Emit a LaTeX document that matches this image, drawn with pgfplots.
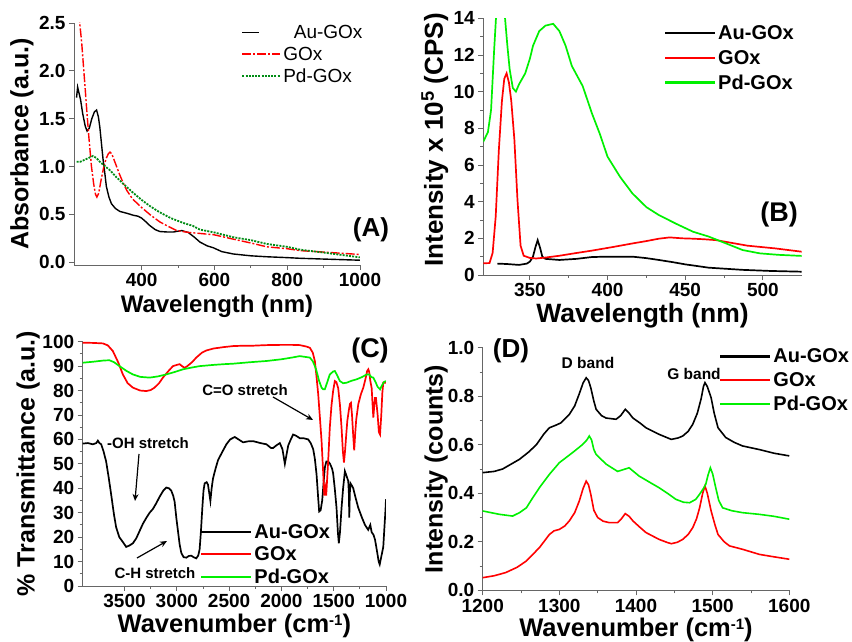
\documentclass[border=0pt]{standalone}
\usepackage{fontspec}
\setmainfont{Liberation Sans}
\usepackage{pgfplots}
\pgfplotsset{compat=1.18}
\usetikzlibrary{arrows.meta}

\definecolor{pdgreen}{RGB}{0,240,0}
\definecolor{dkgreen}{RGB}{0,140,20}

\newcommand{\cmi}{cm\raisebox{0.55ex}{\fontsize{15}{15}\selectfont -1}}

\pgfplotsset{
  leglong/.style={legend image code/.code={\draw[##1, line width=2.2pt] (0pt,0pt) -- (50pt,0pt);}},
  legmid/.style={legend image code/.code={\draw[##1, line width=1.8pt] (0pt,0pt) -- (38pt,0pt);}},
  legshort/.style={legend image code/.code={\draw[##1, line width=1.8pt] (0pt,0pt) -- (17pt,0pt);}},
  xlab/.style 2 args={every axis x label/.style={at={(axis description cs:0.5,#1)}, anchor=center,
    font=\bfseries\fontsize{#2}{#2}\selectfont}},
  ylab/.style n args={3}{every axis y label/.style={at={(axis description cs:#1,#3)}, anchor=center, rotate=90,
    font=\bfseries\fontsize{#2}{#2}\selectfont}},
  panel/.style={
    scale only axis,
    anchor=south west,
    axis x line*=bottom, axis y line*=left,
    axis line style={black!60, line width=0.9pt},
    tick align=outside,
    tick style={black!60, line width=0.9pt},
    major tick length=5pt, minor tick length=3pt,
    tick label style={font=\bfseries\fontsize{19}{19}\selectfont},
    /pgf/number format/assume math mode=true,
    /pgf/number format/set thousands separator={},
    legend cell align=left,
    legend style={draw=none, fill=none, anchor=north west, inner sep=0pt,
      row sep=4pt, font=\bfseries\fontsize{20}{20}\selectfont},
    leglong,
  },
}

\begin{document}
\begin{tikzpicture}
\path[use as bounding box] (0,0) rectangle (852pt,642pt);

% ---------- (A) absorbance
\begin{axis}[panel,
  at={(74pt,377pt)}, width=286pt, height=242pt,
  xmin=214, xmax=1000, ymin=-0.03, ymax=2.5,
  xtick={400,600,800,1000}, minor x tick num=1,
  ytick={0,0.5,1,1.5,2,2.5},
  yticklabel style={/pgf/number format/fixed, /pgf/number format/fixed zerofill, /pgf/number format/precision=1},
  xlabel={Wavelength (nm)}, ylabel={Absorbance (a.u.)},
  xlab={-0.17}{24}, ylab={-0.182}{25}{0.5},
  legend style={at={(0.585,1.0)}, font=\fontsize{19}{19}\selectfont, row sep=3pt},
  legmid,
]
\addplot[black, line width=1.4pt, legshort] coordinates {
(221,1.72)(224,1.83)(227,1.78)(232,1.70)(238,1.55)(245,1.42)(250,1.37)(256,1.40)(263,1.50)(270,1.57)(276,1.59)(281,1.52)(285,1.41)(290,1.22)(294,1.07)(299,0.92)(303,0.79)(310,0.68)(317,0.61)(328,0.56)(340,0.53)(360,0.51)(377,0.49)(390,0.48)(400,0.46)(412,0.42)(423,0.38)(437,0.34)(450,0.32)(470,0.315)(487,0.315)(510,0.33)(528,0.31)(545,0.26)(560,0.21)(580,0.17)(597,0.15)(620,0.11)(652,0.085)(700,0.066)(744,0.056)(800,0.047)(836,0.04)(900,0.032)(1000,0.02)
};
\addlegendentry{\ \ Au-GOx}
\addplot[red, line width=1.4pt, dash pattern=on 9pt off 2pt on 2pt off 2pt] coordinates {
(228,2.6)(230,2.49)(235,2.3)(240,2.05)(245,1.8)(249,1.59)(255,1.3)(262,1.0)(268,0.82)(273,0.71)(277,0.68)(282,0.72)(288,0.85)(295,0.98)(302,1.08)(308,1.13)(313,1.15)(318,1.13)(324,1.07)(331,1.0)(340,0.91)(349,0.83)(359,0.75)(375,0.66)(400,0.57)(425,0.49)(450,0.42)(475,0.37)(496,0.33)(530,0.31)(560,0.30)(600,0.285)(652,0.24)(700,0.2)(744,0.16)(800,0.14)(836,0.12)(900,0.105)(1000,0.08)
};
\addlegendentry{GOx}
\addplot[dkgreen, line width=1.8pt, dash pattern=on 2pt off 1.2pt] coordinates {
(221,1.05)(232,1.05)(243,1.07)(255,1.09)(266,1.11)(275,1.09)(285,1.05)(300,1.0)(313,0.96)(330,0.89)(349,0.82)(375,0.73)(400,0.65)(425,0.58)(450,0.52)(480,0.46)(514,0.41)(540,0.38)(560,0.34)(600,0.31)(652,0.26)(700,0.23)(744,0.19)(800,0.16)(836,0.13)(900,0.10)(950,0.075)(1000,0.05)
};
\addlegendentry{Pd-GOx}
\end{axis}

% ---------- (B) fluorescence
\begin{axis}[panel,
  at={(483.3pt,367pt)}, width=318.4pt, height=256.7pt,
  xmin=320, xmax=525, ymin=0, ymax=14,
  xtick={350,400,450,500}, minor x tick num=1,
  ytick={0,2,4,6,8,10,12,14}, minor y tick num=1,
  xlabel={Wavelength (nm)}, ylabel={Intensity x 10\textsuperscript{5} (CPS)},
  xlab={-0.158}{26.5}, ylab={-0.152}{26}{0.526},
  legend style={at={(0.567,0.98)}, row sep=5pt},
]
\addplot[black, line width=1.7pt] coordinates {
(329,0.62)(335,0.6)(343,0.55)(348,0.62)(350,0.73)(352,1.0)(353.5,1.5)(355,1.9)(356.5,1.5)(358,1.0)(360,0.88)(369,0.82)(380,0.88)(390,0.98)(400,1.0)(416,1.0)(425,0.92)(433,0.82)(442,0.7)(450,0.58)(465,0.4)(487,0.28)(505,0.22)(525,0.18)
};
\addlegendentry{Au-GOx}
\addplot[red, line width=1.7pt] coordinates {
(320,0.64)(324,0.65)(326,1.2)(328,3.2)(330,6.8)(332,9.5)(333.5,10.7)(335,11.0)(336.5,10.5)(338,9.5)(340,7.4)(342,4.1)(344,1.6)(346,1.05)(350,0.93)(354,0.9)(360,0.95)(369,1.05)(380,1.2)(390,1.33)(403,1.52)(416,1.72)(425,1.85)(433,1.98)(440,2.05)(448,2.0)(455,1.98)(462,1.95)(470,1.9)(480,1.75)(490,1.6)(508,1.45)(525,1.27)
};
\addlegendentry{GOx}
\addplot[pdgreen, line width=1.7pt] coordinates {
(320,7.27)(323,7.8)(325,9.0)(327,12.3)(328.5,14.5)(331,19)(333,15.5)(334,14)(335.5,12.5)(337,11.2)(339,10.2)(341,10.0)(343,10.4)(347,11.0)(350,11.8)(352,12.5)(356,13.3)(360,13.6)(365,13.7)(369,13.3)(373,12.5)(377,11.4)(384,10.3)(390,8.8)(395,7.7)(400,6.45)(408,5.36)(416,4.45)(425,3.7)(433,3.27)(444,2.8)(455,2.36)(465,2.1)(476,1.73)(487,1.36)(498,1.18)(510,1.1)(525,1.04)
};
\addlegendentry{Pd-GOx}
\end{axis}

% ---------- (C) FTIR
\begin{axis}[panel,
  at={(82.7pt,56pt)}, width=303.3pt, height=244.3pt,
  x dir=reverse, xmin=1000, xmax=3900, ymin=0, ymax=100,
  xtick={1000,1500,2000,2500,3000,3500}, minor x tick num=1,
  ytick={0,10,...,100}, minor y tick num=1,
  xlabel={Wavenumber (\cmi)}, ylabel={\% Transmittance (a.u.)},
  xlab={-0.165}{25.5}, ylab={-0.18}{25}{0.5},
  legend style={at={(0.387,0.262)}, row sep=3pt},
]
\addplot[black, line width=1.7pt] coordinates {
(3900,58.3)(3850,58.5)(3803,58)(3770,58.5)(3755,59.5)(3740,58.5)(3723,58)(3700,55)(3676,51)(3650,44)(3628,37.5)(3600,29)(3580,24)(3550,20)(3516,18)(3484,16)(3452,16.6)(3420,17.5)(3388,19.5)(3356,22.5)(3324,25.5)(3290,28)(3260,30)(3229,31.5)(3195,34)(3165,36.5)(3130,39)(3101,40.3)(3075,40)(3053,39)(3035,37)(3021,34.5)(3005,28)(2989,22.5)(2973,17)(2957,13.5)(2935,11.8)(2909,11.6)(2885,12.3)(2861,12.4)(2840,11.8)(2814,11.3)(2795,12.5)(2782,15)(2770,22)(2756,32)(2745,39)(2734,42)(2715,42.5)(2702,41.5)(2690,38)(2679,34.8)(2667,40)(2654,44)(2630,48)(2606,51.5)(2570,54.5)(2526,58)(2490,60)(2446,61)(2410,60)(2366,58.8)(2320,59.2)(2271,59.3)(2200,58.5)(2143,58)(2100,56.5)(2079,56.5)(2050,57.5)(2015,58.5)(1990,56)(1967,50)(1950,54)(1935,57.5)(1910,60)(1888,62)(1860,61.5)(1824,60.5)(1790,60.5)(1744,60)(1720,58.5)(1696,56)(1680,52)(1664,45.7)(1650,37)(1639,30.5)(1625,31)(1610,35)(1597,42)(1585,48.4)(1570,51)(1553,51)(1535,50)(1515,48)(1505,46)(1490,40)(1473,32)(1460,22)(1451,17.5)(1440,22)(1425,32)(1410,40)(1393,47)(1377,45)(1361,43)(1355,38)(1351,28)(1346,38)(1339,42)(1325,41)(1313,40)(1290,36)(1265,32)(1230,28)(1201,25)(1170,23)(1150,25)(1137,22)(1120,21)(1105,19)(1085,14)(1070,10)(1060,8.8)(1045,12)(1026,16)(1015,24)(1005,31)(1000,35.5)
};
\addlegendentry{Au-GOx}
\addplot[red, line width=1.7pt] coordinates {
(3900,99.6)(3800,99.5)(3707,99.3)(3660,98.5)(3612,96.2)(3560,91.5)(3516,86.6)(3470,83)(3420,81.2)(3350,80)(3292,79.8)(3250,80.2)(3213,81.2)(3170,83)(3133,85.3)(3080,88)(3037,90)(3000,90.5)(2973,90.8)(2950,90)(2925,89.3)(2900,90)(2877,90.8)(2850,91.8)(2814,93.5)(2760,95.5)(2718,96.4)(2650,97.2)(2550,97.8)(2462,98.2)(2400,98.3)(2303,98.3)(2200,98.5)(2143,98.6)(2000,98.7)(1900,98.7)(1824,98.6)(1760,98)(1728,97.5)(1700,95.5)(1680,92)(1665,86)(1648,78.4)(1632,69)(1616,59.3)(1600,46)(1590,37)(1580,40)(1572,37)(1565,42)(1553,51)(1537,65)(1521,74)(1505,80)(1489,83.9)(1475,83.5)(1457,81)(1440,74)(1425,64.8)(1412,55)(1402,50.5)(1392,55)(1380,62)(1370,67.5)(1355,72)(1345,74.5)(1335,75)(1325,70)(1314,62)(1304,55.5)(1295,62)(1285,68)(1265,74.4)(1240,78.5)(1217,81.2)(1195,85)(1180,88)(1169,88.7)(1160,87.5)(1150,84)(1137,81)(1128,74)(1121,68.9)(1112,74)(1105,77)(1096,77)(1080,70)(1068,63)(1057,62)(1045,70)(1035,79)(1026,83.2)(1000,83.2)
};
\addlegendentry{GOx}
\addplot[pdgreen, line width=1.7pt] coordinates {
(3900,91.4)(3800,91.8)(3700,92.3)(3644,92.4)(3600,91.6)(3548,90)(3480,88)(3420,86.6)(3350,85.6)(3260,85.3)(3180,85.8)(3101,86.6)(3020,87.6)(2941,88.7)(2860,89.4)(2782,90)(2650,90.5)(2550,90.8)(2462,91)(2300,91.6)(2143,92.1)(2000,92.8)(1900,93.5)(1824,94.1)(1760,93.7)(1728,93.5)(1700,92)(1680,90)(1664,88)(1640,84)(1616,81.2)(1600,80.5)(1585,80.5)(1565,83)(1537,86.6)(1505,87.8)(1489,88)(1470,86.5)(1441,83.9)(1410,83)(1377,83.2)(1330,84)(1281,84.6)(1230,85.5)(1185,86.6)(1160,86.6)(1140,85.5)(1121,85.3)(1100,83.5)(1080,81.5)(1057,80.5)(1040,82)(1020,83.5)(1000,83.9)
};
\addlegendentry{Pd-GOx}
\end{axis}

% ---------- (D) Raman
\begin{axis}[panel,
  at={(482.7pt,51.7pt)}, width=306.6pt, height=242.6pt,
  xmin=1200, xmax=1600, ymin=0, ymax=1,
  xtick={1200,1300,1400,1500,1600}, minor x tick num=1,
  ytick={0,0.2,0.4,0.6,0.8,1.0}, minor y tick num=1,
  yticklabel style={/pgf/number format/fixed, /pgf/number format/fixed zerofill, /pgf/number format/precision=1},
  xlabel={Wavenumber (\cmi)}, ylabel={Intensity (counts)},
  xlab={-0.165}{25.5}, ylab={-0.152}{25}{0.5},
  legend style={at={(0.771,1.005)}},
]
\addplot[black, line width=1.6pt] coordinates {
(1200,0.485)(1215,0.49)(1226,0.50)(1237,0.52)(1248,0.54)(1260,0.57)(1270,0.60)(1280,0.645)(1287,0.67)(1295,0.68)(1302,0.69)(1313,0.725)(1320,0.76)(1326,0.81)(1331,0.855)(1335,0.876)(1338,0.865)(1341,0.835)(1345,0.78)(1348,0.746)(1355,0.72)(1361,0.71)(1374,0.705)(1380,0.72)(1386,0.746)(1391,0.73)(1396,0.71)(1405,0.69)(1413,0.67)(1430,0.643)(1446,0.622)(1455,0.628)(1461,0.636)(1468,0.655)(1474,0.684)(1480,0.73)(1485,0.79)(1488,0.84)(1490,0.856)(1493,0.84)(1498,0.794)(1502,0.73)(1507,0.67)(1517,0.63)(1528,0.61)(1539,0.595)(1561,0.58)(1580,0.565)(1600,0.554)
};
\addlegendentry{Au-GOx}
\addplot[red, line width=1.6pt] coordinates {
(1200,0.052)(1215,0.06)(1230,0.073)(1245,0.095)(1257,0.121)(1266,0.15)(1274,0.176)(1281,0.205)(1287,0.23)(1293,0.245)(1300,0.251)(1307,0.265)(1313,0.286)(1320,0.32)(1326,0.368)(1331,0.42)(1335,0.45)(1338,0.435)(1341,0.396)(1345,0.33)(1350,0.30)(1357,0.285)(1365,0.279)(1376,0.279)(1381,0.295)(1386,0.316)(1391,0.305)(1396,0.286)(1405,0.26)(1413,0.238)(1430,0.21)(1440,0.198)(1446,0.192)(1454,0.198)(1461,0.21)(1468,0.23)(1474,0.258)(1479,0.295)(1483,0.34)(1487,0.40)(1490,0.43)(1493,0.40)(1498,0.327)(1503,0.27)(1507,0.23)(1515,0.2)(1522,0.183)(1539,0.169)(1561,0.148)(1580,0.138)(1600,0.128)
};
\addlegendentry{GOx}
\addplot[pdgreen, line width=1.6pt] coordinates {
(1200,0.327)(1222,0.313)(1239,0.306)(1248,0.32)(1257,0.34)(1265,0.38)(1274,0.423)(1287,0.478)(1300,0.526)(1317,0.567)(1330,0.60)(1336,0.62)(1339,0.636)(1342,0.62)(1345,0.58)(1348,0.56)(1361,0.52)(1376,0.49)(1391,0.505)(1404,0.471)(1418,0.445)(1430,0.423)(1441,0.40)(1452,0.375)(1462,0.363)(1470,0.361)(1478,0.375)(1483,0.396)(1488,0.42)(1491,0.437)(1494,0.475)(1497,0.505)(1500,0.48)(1504,0.423)(1508,0.37)(1513,0.34)(1525,0.328)(1539,0.32)(1561,0.313)(1580,0.305)(1600,0.293)
};
\addlegendentry{Pd-GOx}
\end{axis}

% ---------- panel letters and annotations
\node[font=\bfseries\fontsize{26}{26}\selectfont] at (371pt,412pt) {(A)};
\node[font=\bfseries\fontsize{27}{27}\selectfont] at (779pt,427pt) {(B)};
\node[font=\bfseries\fontsize{27}{27}\selectfont] at (370pt,291pt) {(C)};
\node[font=\bfseries\fontsize{26}{26}\selectfont] at (511pt,291pt) {(D)};
\node[font=\bfseries\fontsize{15.5}{15.5}\selectfont] at (588pt,279pt) {D band};
\node[font=\bfseries\fontsize{15.5}{15.5}\selectfont] at (694pt,268pt) {G band};
\node[font=\bfseries\fontsize{15}{15}\selectfont] at (245pt,252pt) {C=O stretch};
\node[font=\bfseries\fontsize{15}{15}\selectfont] at (148pt,199pt) {-OH stretch};
\node[font=\bfseries\fontsize{15}{15}\selectfont] at (155pt,69pt) {C-H stretch};
\draw[line width=1.2pt, -{Stealth[length=7pt,width=6pt]}] (273pt,245pt) -- (313pt,222pt);
\draw[line width=1.2pt, -{Stealth[length=7pt,width=6pt]}] (139pt,188pt) -- (135pt,141pt);
\draw[line width=1.2pt, -{Stealth[length=7pt,width=6pt]}] (137pt,84pt) -- (167pt,101pt);
\end{tikzpicture}
\end{document}
